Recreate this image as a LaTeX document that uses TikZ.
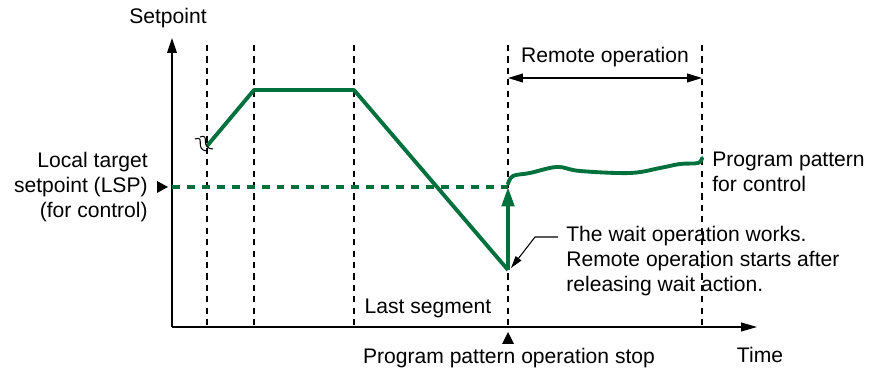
\documentclass[tikz,border=0pt]{standalone}
\usepackage{fontspec}
\setmainfont{Liberation Sans}
\usetikzlibrary{arrows.meta,positioning}
\definecolor{pgreen}{RGB}{0,112,60}
\tikzset{
  guide/.style={black, line width=0.6pt, dash pattern=on 3.5pt off 3pt},
  prog/.style={pgreen, line width=2.2pt, line join=round},
  lbl/.style={font=\fontsize{12}{14}\selectfont, inner sep=0pt},
}
\begin{document}
\begin{tikzpicture}[x=0.02cm, y=-0.02cm]
\useasboundingbox (0,0) rectangle (872,374);

% Axes
\coordinate (o) at (172,327);
\coordinate (ytop) at (172,38);
\coordinate (xend) at (757,327);
\draw[line width=0.7pt, -{Triangle[length=8.5pt,width=5.5pt]}] (o) -- (ytop);
\draw[line width=0.7pt, -{Triangle[length=9pt,width=5pt]}] (o) -- (xend);
\node[lbl] (ylab) at (168,18) {Setpoint};
\node[lbl] (xlab) at (760,355) {Time};

% Dashed guide lines
\foreach \x/\name in {207/ga, 254/gb, 354/gc, 508/gd, 702/ge} {
  \coordinate (\name top) at (\x,45);
  \coordinate (\name bot) at (\x,327);
  \draw[guide] (\name top) -- (\name bot);
}

% Program pattern
\coordinate (p0) at (207,146);
\coordinate (p1) at (254,90);
\coordinate (p2) at (354,90);
\coordinate (p3) at (508,270);
\draw[prog] (p0) -- (p1) -- (p2) -- (p3);

% Break mark
\draw[line width=0.6pt] (195,139) .. controls (206,135) and (194,150) .. (207,151);
\draw[line width=0.6pt] (200,137) .. controls (211,133) and (199,148) .. (213,149);

% Local target setpoint
\coordinate (lsp) at (172,187);
\coordinate (wait) at (508,187);
\draw[prog, dash pattern=on 4.5pt off 4pt] (lsp) -- (wait);
\fill (157,181) -- (168,187) -- (157,193) -- cycle;
\node[lbl, align=right, anchor=east] (lsplab) at (148,187)
  {Local target\\setpoint (LSP)\\(for control)};

% Wait action and remote operation
\draw[prog, -{Triangle[length=11pt,width=7pt]}] (p3) -- (wait);
\draw[prog, line cap=round] plot[smooth, tension=0.6] coordinates {
  (508,184) (513,176) (530,173) (557,167) (580,171) (630,173)
  (660,168) (680,164) (698,163) (702,158)};
\node[lbl, align=left, anchor=west] (patlab) at (712,172)
  {Program pattern\\for control};

% Remote operation span
\coordinate (ra) at (508,78);
\coordinate (rb) at (702,78);
\draw[line width=0.7pt, {Triangle[length=8.5pt,width=5pt]}-{Triangle[length=8.5pt,width=5pt]}] (ra) -- (rb);
\node[lbl] (remlab) at (605,57) {Remote operation};

% Wait annotation
\node[lbl, align=left, anchor=west] (waitlab) at (566,261)
  {The wait operation works.\\Remote operation starts after\\releasing wait action.};
\coordinate (lead) at (535,237);
\draw[line width=0.6pt, -{Triangle[length=7pt,width=4pt]}] (558,237) -- (lead) -- (511,268);

% Last segment and stop
\node[lbl] (lastlab) at (428,308) {Last segment};
\fill (502,344) -- (508,332) -- (514,344) -- cycle;
\node[lbl] (stoplab) at (509,358) {Program pattern operation stop};
\end{tikzpicture}
\end{document}
